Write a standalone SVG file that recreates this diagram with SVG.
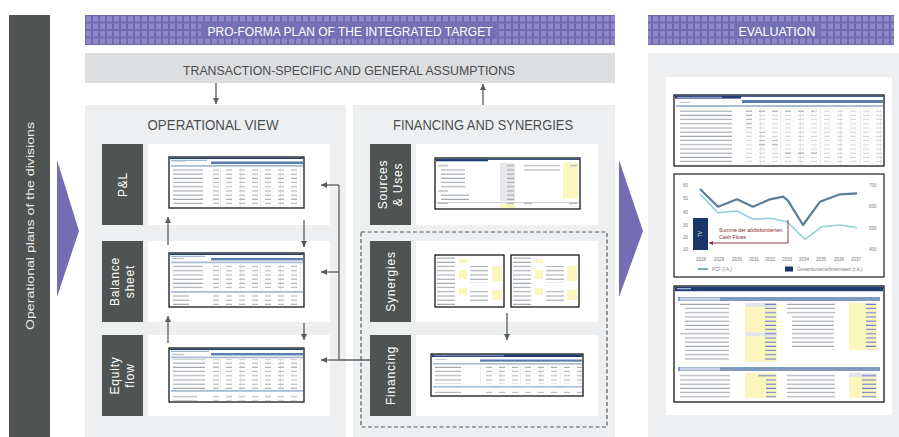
<svg xmlns="http://www.w3.org/2000/svg" width="899" height="437" viewBox="0 0 899 437">
<style>
.dark{fill:#4f5452}
.panel{fill:#eeeff0}
.card{fill:#ffffff}
.hdr{font-family:"Liberation Sans",Arial,sans-serif;font-size:12.5px;fill:#ffffff;text-anchor:middle}
.sub{font-family:"Liberation Sans",Arial,sans-serif;font-size:13.5px;fill:#4a4d50;text-anchor:middle}
.title{font-family:"Liberation Sans",Arial,sans-serif;font-size:15px;fill:#4b4f52;text-anchor:middle}
.lab{font-family:"Liberation Sans",Arial,sans-serif;font-size:12px;fill:#ffffff;text-anchor:middle;letter-spacing:0.8px;dominant-baseline:central}
.sheet{fill:#ffffff;stroke:#161616;stroke-width:1.3}
.conn{fill:none;stroke:#585c5e;stroke-width:1.3}
.tri{fill:#746db3}
.navy{fill:#1f3d72}
.hblue{fill:#5b7eb0}
.band{fill:#a9bdd7}
.yel{fill:#fbf6bd}
.ax{font-family:"Liberation Sans",Arial,sans-serif;font-size:4.6px;fill:#7a7a7a}
.ann{font-family:"Liberation Sans",Arial,sans-serif;font-size:5.2px;fill:#8a2535}
</style>
<defs>
  <!-- purple chequered header fill -->
  <pattern id="chk" x="85" y="15" width="7" height="7.5" patternUnits="userSpaceOnUse">
    <rect width="7" height="7.5" fill="#7069b0"/>
    <rect x="1" y="1" width="5" height="5.5" fill="#8e88c8"/>
  </pattern>
  <!-- spreadsheet row textures: label lines, figure columns, blue inputs -->
  <pattern id="lbl" width="4" height="4.2" patternUnits="userSpaceOnUse">
    <rect x="0" y="1.4" width="4" height="1.1" fill="#a2a8b0"/>
  </pattern>
  <pattern id="bl" width="4" height="4.2" patternUnits="userSpaceOnUse">
    <rect x="0" y="1.4" width="4" height="1.1" fill="#6a7dd0"/>
  </pattern>
  <pattern id="num" width="13" height="4.2" patternUnits="userSpaceOnUse">
    <rect x="5" y="1.4" width="6" height="1.1" fill="#aeb3ba"/>
  </pattern>
  <pattern id="grid" width="20" height="4.2" patternUnits="userSpaceOnUse">
    <rect x="0" y="0" width="0.5" height="4.2" fill="#d6dade"/>
    <rect x="0" y="4" width="20" height="0.3" fill="#e3e6e9"/>
  </pattern>
  <marker id="ah" viewBox="0 0 8 8" refX="8" refY="4" markerWidth="6" markerHeight="6" markerUnits="userSpaceOnUse" orient="auto">
    <path d="M0,0 L8,4 L0,8 z" fill="#585c5e"/>
  </marker>
  <marker id="ahr" viewBox="0 0 8 8" refX="8" refY="4" markerWidth="4" markerHeight="4" markerUnits="userSpaceOnUse" orient="auto">
    <path d="M0,0 L8,4 L0,8 z" fill="#8a2535"/>
  </marker>
</defs>

<rect width="899" height="437" fill="#ffffff"/>

<!-- input side bar -->
<g id="divisions">
  <rect class="dark" x="9" y="15" width="41" height="422"/>
  <text transform="translate(33.5,226) rotate(-90)" font-family="'Liberation Sans',Arial,sans-serif" font-size="11" fill="#e9eaea" text-anchor="middle" textLength="208" lengthAdjust="spacingAndGlyphs">Operational plans of the divisions</text>
  <polygon class="tri" points="57,160 79,231 57,297"/>
</g>

<!-- pro-forma header -->
<g id="proforma-header">
  <rect x="85" y="15" width="530" height="30" fill="url(#chk)"/>
  <rect x="201" y="22.5" width="298" height="15" fill="#7670b4"/>
  <text class="hdr" x="350" y="36" textLength="285" lengthAdjust="spacingAndGlyphs">PRO-FORMA PLAN OF THE INTEGRATED TARGET</text>
</g>

<g id="assumptions">
  <rect x="85" y="53" width="530" height="30" fill="#dcdddf"/>
  <text class="sub" x="349" y="74.5" textLength="332" lengthAdjust="spacingAndGlyphs">TRANSACTION-SPECIFIC AND GENERAL ASSUMPTIONS</text>
</g>

<!-- operational view -->
<g id="operational-view">
  <rect class="panel" x="85" y="105" width="261" height="332"/>
  <text class="title" x="213" y="130" textLength="131" lengthAdjust="spacingAndGlyphs">OPERATIONAL VIEW</text>
</g>

<g id="pnl">
  <rect class="dark" x="102" y="144" width="41" height="81"/>
  <text class="lab" transform="translate(122.5,184.5) rotate(-90)">P&amp;L</text>
  <rect class="card" x="148" y="144" width="182" height="81"/>
  <rect class="sheet" x="169" y="157" width="135" height="51"/>
  <rect class="navy" x="170" y="157.7" width="133" height="1.3"/>
  <rect x="171" y="159.8" width="36" height="1" fill="#8ea3c6"/>
  <rect class="hblue" x="211" y="161.5" width="92" height="2.6"/>
  <rect x="172" y="161.5" width="14" height="2.5" fill="url(#lbl)"/>
  <rect class="band" x="171" y="165" width="132" height="1.8"/>
  <rect x="211" y="168" width="92" height="39" fill="url(#grid)"/>
  <rect x="173" y="168" width="30" height="39" fill="url(#lbl)"/>
  <rect x="211" y="168" width="92" height="39" fill="url(#num)"/>
</g>

<g id="balance-sheet">
  <rect class="dark" x="102" y="241" width="41" height="81"/>
  <text class="lab" transform="translate(122.5,281.5) rotate(-90)"><tspan x="0" y="-7.5">Balance</tspan><tspan x="0" y="7.5">sheet</tspan></text>
  <rect class="card" x="148" y="241" width="182" height="81"/>
  <rect class="sheet" x="169" y="253" width="135" height="54"/>
  <rect class="navy" x="170" y="253.7" width="133" height="1.3"/>
  <rect x="171" y="255.8" width="34" height="1" fill="#8ea3c6"/>
  <rect class="hblue" x="211" y="258" width="92" height="2.4"/>
  <rect x="172" y="258" width="12" height="2.5" fill="url(#lbl)"/>
  <rect class="band" x="171" y="261.5" width="132" height="1.8"/>
  <rect x="211" y="264" width="92" height="26" fill="url(#grid)"/>
  <rect x="173" y="264" width="30" height="26" fill="url(#lbl)"/>
  <rect x="211" y="264" width="92" height="26" fill="url(#num)"/>
  <rect class="band" x="171" y="291" width="132" height="1.8"/>
  <rect x="173" y="294" width="16" height="12" fill="url(#lbl)"/>
  <rect x="211" y="294" width="92" height="12" fill="url(#num)"/>
</g>

<g id="equity-flow">
  <rect class="dark" x="102" y="335" width="41" height="81"/>
  <text class="lab" transform="translate(122.5,375.5) rotate(-90)"><tspan x="0" y="-7.5">Equity</tspan><tspan x="0" y="7.5">flow</tspan></text>
  <rect class="card" x="148" y="335" width="182" height="81"/>
  <rect class="sheet" x="169" y="348" width="135" height="54"/>
  <rect class="navy" x="170" y="348.7" width="133" height="1.3"/>
  <rect x="171" y="350.8" width="38" height="1" fill="#8ea3c6"/>
  <rect class="hblue" x="211" y="353" width="92" height="2.4"/>
  <rect x="172" y="353" width="12" height="2.5" fill="url(#lbl)"/>
  <rect class="band" x="171" y="356.5" width="132" height="1.8"/>
  <rect x="211" y="359" width="92" height="30" fill="url(#grid)"/>
  <rect x="173" y="359" width="32" height="30" fill="url(#lbl)"/>
  <rect x="211" y="359" width="92" height="30" fill="url(#num)"/>
  <rect class="band" x="171" y="390" width="132" height="1.8"/>
  <rect x="173" y="393" width="24" height="8" fill="url(#lbl)"/>
  <rect x="211" y="393" width="92" height="8" fill="url(#num)"/>
</g>

<!-- financing and synergies -->
<g id="financing-synergies">
  <rect class="panel" x="353" y="105" width="262" height="332"/>
  <text class="title" x="483" y="130" textLength="180" lengthAdjust="spacingAndGlyphs">FINANCING AND SYNERGIES</text>
  <rect x="361" y="232" width="246" height="195" fill="none" stroke="#55595b" stroke-width="1.2" stroke-dasharray="4 2.5"/>
</g>

<g id="sources-uses">
  <rect class="dark" x="370" y="144" width="41" height="81"/>
  <text class="lab" transform="translate(390.5,184.5) rotate(-90)"><tspan x="0" y="-7.5">Sources</tspan><tspan x="0" y="7.5">&amp; Uses</tspan></text>
  <rect class="card" x="416" y="144" width="182" height="81"/>
  <rect class="sheet" x="435" y="158" width="145" height="51"/>
  <rect class="navy" x="436" y="158.7" width="143" height="1.2"/>
  <rect class="navy" x="436" y="159.5" width="52" height="1.8"/>
  <rect x="438" y="163" width="10" height="4" fill="url(#lbl)"/>
  <rect x="441" y="167" width="24" height="21" fill="url(#lbl)"/>
  <rect x="438" y="188" width="10" height="4" fill="url(#lbl)"/>
  <rect x="441" y="192" width="28" height="10" fill="url(#lbl)"/>
  <rect x="500" y="163" width="15" height="38" fill="#e6e7e9"/>
  <rect x="507" y="163" width="7" height="38" fill="url(#lbl)"/>
  <rect x="524" y="163" width="36" height="9" fill="url(#lbl)"/>
  <rect class="yel" x="563" y="162.5" width="15" height="36"/>
  <rect x="570" y="163" width="7" height="4" fill="url(#lbl)"/>
  <rect x="436" y="202" width="143" height="0.5" fill="#999"/>
  <rect class="yel" x="500" y="204" width="15" height="4"/>
  <rect x="438" y="203" width="10" height="4" fill="url(#lbl)"/>
  <rect x="507" y="203" width="7" height="4" fill="url(#lbl)"/>
  <rect x="524" y="203" width="8" height="4" fill="url(#lbl)"/>
  <rect x="569" y="203" width="8" height="4" fill="url(#lbl)"/>
</g>

<g id="synergies">
  <rect class="dark" x="370" y="241" width="41" height="81"/>
  <text class="lab" transform="translate(390.5,281.5) rotate(-90)">Synergies</text>
  <rect class="card" x="416" y="241" width="182" height="81"/>
  <rect class="sheet" x="435" y="255" width="69" height="52"/>
  <rect x="437" y="257" width="18" height="48" fill="url(#lbl)"/>
  <rect class="yel" x="459" y="259" width="8" height="4"/>
  <rect class="yel" x="459" y="270" width="8" height="9"/>
  <rect class="yel" x="459" y="288" width="8" height="7"/>
  <rect x="470" y="266" width="18" height="17" fill="url(#lbl)"/>
  <rect x="470" y="289" width="18" height="14" fill="url(#lbl)"/>
  <rect class="yel" x="492" y="266" width="10" height="15"/>
  <rect class="yel" x="492" y="290" width="10" height="10"/>
  <rect class="sheet" x="511" y="255" width="68" height="52"/>
  <rect x="513" y="257" width="18" height="48" fill="url(#lbl)"/>
  <rect class="yel" x="535" y="259" width="8" height="4"/>
  <rect class="yel" x="535" y="270" width="8" height="9"/>
  <rect class="yel" x="535" y="288" width="8" height="7"/>
  <rect x="546" y="266" width="18" height="17" fill="url(#lbl)"/>
  <rect x="546" y="289" width="18" height="14" fill="url(#lbl)"/>
  <rect class="yel" x="567" y="266" width="10" height="15"/>
  <rect class="yel" x="567" y="290" width="10" height="10"/>
</g>

<g id="financing">
  <rect class="dark" x="370" y="335" width="41" height="81"/>
  <text class="lab" transform="translate(390.5,375.5) rotate(-90)">Financing</text>
  <rect class="card" x="416" y="335" width="182" height="81"/>
  <rect class="sheet" x="431" y="354" width="152" height="42"/>
  <rect class="navy" x="432" y="354.6" width="150" height="2.4"/>
  <rect x="434" y="355.3" width="70" height="0.9" fill="#8ea3c6"/>
  <rect class="hblue" x="480" y="359.5" width="102" height="2.2"/>
  <rect x="435" y="359" width="12" height="3" fill="url(#lbl)"/>
  <rect class="band" x="433" y="363" width="149" height="1.6"/>
  <rect x="480" y="366" width="102" height="18" fill="url(#grid)"/>
  <rect x="435" y="366" width="26" height="18" fill="url(#lbl)"/>
  <rect x="480" y="366" width="102" height="18" fill="url(#num)"/>
  <rect class="band" x="433" y="386" width="149" height="1.6"/>
  <rect x="435" y="389" width="26" height="5" fill="url(#lbl)"/>
  <rect x="480" y="389" width="102" height="5" fill="url(#num)"/>
</g>

<polygon class="tri" points="619,160 643,231 619,297"/>

<!-- evaluation -->
<g id="evaluation-header">
  <rect x="648" y="15" width="246" height="30" fill="url(#chk)"/>
  <rect x="734" y="22.5" width="87" height="15" fill="#7670b4"/>
  <text class="hdr" x="777" y="36" textLength="77" lengthAdjust="spacingAndGlyphs">EVALUATION</text>
</g>

<g id="evaluation">
  <rect class="panel" x="648" y="53" width="251" height="384"/>
  <rect class="card" x="666" y="77" width="226" height="338"/>

  <!-- project financing overview -->
  <rect class="sheet" x="674" y="95" width="210" height="71"/>
  <rect class="navy" x="675" y="95.6" width="208" height="1.2"/>
  <rect class="navy" x="675" y="96" width="66" height="2.6"/>
  <rect x="677" y="96.8" width="45" height="1" fill="#9fb2d4"/>
  <rect class="hblue" x="742" y="100" width="141" height="3"/>
  <rect x="680" y="100" width="10" height="3" fill="url(#lbl)"/>
  <rect class="band" x="676" y="105" width="207" height="2"/>
  <rect x="742" y="108" width="141" height="57" fill="url(#grid)"/>
  <rect x="680" y="108" width="52" height="57" fill="url(#lbl)"/>
  <rect x="742" y="108" width="141" height="57" fill="url(#num)" opacity="0.55"/>
  <rect x="742" y="108" width="72" height="4" fill="url(#num)"/>
  <rect x="742" y="112" width="12" height="16" fill="url(#num)"/>
  <rect x="755" y="132" width="12" height="4" fill="url(#num)"/>
  <rect x="755" y="140" width="24" height="8" fill="url(#num)"/>
  <rect x="780" y="152" width="40" height="4" fill="url(#num)"/>

  <!-- free cash flow chart -->
  <rect x="674" y="174" width="210" height="103" fill="#ffffff" stroke="#1e1e1e" stroke-width="1.2"/>
  <g class="ax">
    <text x="683" y="186.5">60</text><text x="683" y="199.5">50</text><text x="683" y="213.5">40</text>
    <text x="683" y="226.5">30</text><text x="683" y="238.5">20</text><text x="683" y="250.5">10</text>
    <text x="869" y="186.5">700</text><text x="869" y="207.5">600</text><text x="869" y="229.5">500</text><text x="869" y="250.5">400</text>
    <g text-anchor="middle">
      <text x="701" y="261">2028</text><text x="719" y="261">2029</text><text x="737" y="261">2030</text>
      <text x="754" y="261">2031</text><text x="770" y="261">2032</text><text x="787" y="261">2033</text>
      <text x="804" y="261">2034</text><text x="821" y="261">2035</text><text x="839" y="261">2036</text>
      <text x="856" y="261">2037</text>
    </g>
  </g>
  <polyline points="700,194 718,212.7 737,211 753,219.3 770,218.3 787,221.7 805,239.3 822,226.7 840,225 857,227.7" fill="none" stroke="#8fd1d6" stroke-width="1.6" stroke-linejoin="round"/>
  <polyline points="700,189 718,206.7 737,199.3 753,206.7 770,199.3 783,196.7 788,200.7 803,225 820,201.7 840,194.3 857,193.3" fill="none" stroke="#5a7d98" stroke-width="2.2" stroke-linejoin="round"/>
  <rect x="693" y="218" width="15" height="32" fill="#1b3668"/>
  <text transform="translate(702,234) rotate(-90)" font-family="'Liberation Sans',Arial,sans-serif" font-size="4.5" fill="#ffffff" text-anchor="middle">TV</text>
  <path d="M788,220 V243 H709" fill="none" stroke="#8a2535" stroke-width="0.9" marker-end="url(#ahr)"/>
  <text class="ann" x="719" y="232">Summe der abdiskontierten</text>
  <text class="ann" x="719" y="239">Cash Flows</text>
  <line x1="698" y1="269" x2="708" y2="269" stroke="#7fa9c0" stroke-width="2"/>
  <text class="ax" x="712" y="270.7">FCF (l.A.)</text>
  <rect x="785" y="266.5" width="8" height="5" fill="#1b3668"/>
  <text class="ax" x="797" y="270.7">Gesamtunternehmenswert (r.A.)</text>

  <!-- control sheet -->
  <rect class="sheet" x="674" y="286" width="210" height="116"/>
  <rect class="navy" x="675" y="286.7" width="208" height="4.5"/>
  <rect x="677" y="288" width="14" height="1.3" fill="#9fb2d4"/>
  <rect x="678" y="297" width="202" height="4" fill="#7f9bc0"/>
  <rect x="680" y="297.5" width="40" height="3" fill="#c8d4e6"/>
  <rect x="680" y="303" width="50" height="4.2" fill="url(#lbl)"/>
  <rect x="685" y="307.2" width="44" height="25" fill="url(#lbl)"/>
  <rect x="680" y="332.2" width="50" height="4.2" fill="url(#lbl)"/>
  <rect x="685" y="336.4" width="44" height="25" fill="url(#lbl)"/>
  <rect x="745" y="303" width="32" height="4.2" fill="#e4e5e7"/>
  <rect x="745" y="307.2" width="32" height="25" class="yel"/>
  <rect x="745" y="332.2" width="32" height="4.2" fill="#e4e5e7"/>
  <rect x="745" y="336.4" width="32" height="25.6" class="yel"/>
  <rect x="765" y="303" width="11" height="59" fill="url(#bl)"/>
  <rect x="787" y="303" width="48" height="12.6" fill="url(#lbl)"/>
  <rect x="792" y="315.6" width="42" height="34" fill="url(#lbl)"/>
  <rect class="yel" x="849" y="303" width="28" height="47"/>
  <rect x="866" y="303" width="10" height="47" fill="url(#bl)"/>
  <rect x="678" y="367" width="202" height="4" fill="#7f9bc0"/>
  <rect x="680" y="367.5" width="40" height="3" fill="#c8d4e6"/>
  <rect x="680" y="373" width="50" height="25" fill="url(#lbl)"/>
  <rect class="yel" x="745" y="373" width="32" height="25"/>
  <rect x="758" y="373" width="18" height="4.2" fill="url(#bl)"/>
  <rect x="766" y="377.2" width="10" height="20.8" fill="url(#bl)"/>
  <rect x="787" y="373" width="48" height="25" fill="url(#lbl)"/>
  <rect x="849" y="373" width="28" height="4.2" fill="#e4e5e7"/>
  <rect class="yel" x="849" y="377.2" width="28" height="20.8"/>
  <rect x="862" y="373" width="14" height="25" fill="url(#bl)"/>
</g>

<!-- connectors -->
<g id="connectors" class="conn">
  <line x1="216" y1="83" x2="216" y2="104" marker-end="url(#ah)"/>
  <line x1="483" y1="105" x2="483" y2="84" marker-end="url(#ah)"/>
  <line x1="168" y1="245" x2="168" y2="217" marker-end="url(#ah)"/>
  <line x1="304" y1="220" x2="304" y2="247" marker-end="url(#ah)"/>
  <line x1="168" y1="343" x2="168" y2="316" marker-end="url(#ah)"/>
  <line x1="304" y1="323" x2="304" y2="340" marker-end="url(#ah)"/>
  <path d="M370,360 H339 V185"/>
  <line x1="339" y1="185" x2="321" y2="185" marker-end="url(#ah)"/>
  <line x1="339" y1="272" x2="321" y2="272" marker-end="url(#ah)"/>
  <line x1="339" y1="360" x2="321" y2="360" marker-end="url(#ah)"/>
  <line x1="507" y1="313" x2="507" y2="340" marker-end="url(#ah)"/>
</g>
</svg>
